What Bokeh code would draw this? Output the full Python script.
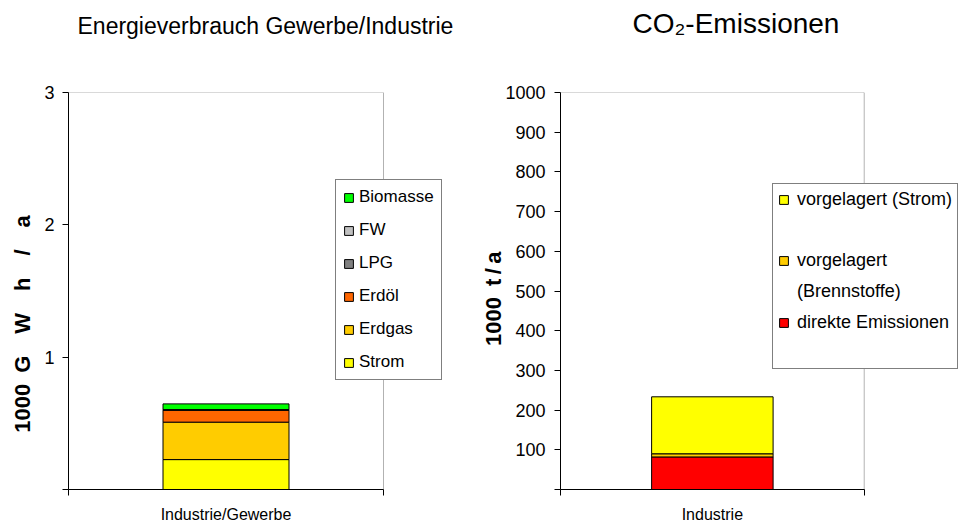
from bokeh.plotting import figure
from bokeh.models import (Range1d, FixedTicker, Legend, LegendItem, ColumnDataSource,
                          BoxAnnotation, Title)
from bokeh.layouts import row
from bokeh.embed import file_html
from bokeh.resources import INLINE

FONT = "Liberation Sans"

# ---------------- data: left chart (energy use) ----------------
energy_category = ["Industrie/Gewerbe"]
energy_series = ["Strom", "Erdgas", "Erdöl", "LPG", "FW", "Biomasse"]
energy_values = [0.226, 0.283, 0.090, 0.003, 0.002, 0.043]   # 1000 GWh/a
energy_colors = ["#FFFF00", "#FFCC00", "#FF6600", "#808080", "#C0C0C0", "#00FF00"]
energy_ticks = [0, 1, 2, 3]

# ---------------- data: right chart (CO2 emissions) ----------------
co2_category = ["Industrie"]
co2_series = ["direkte Emissionen", "vorgelagert (Brennstoffe)", "vorgelagert (Strom)"]
co2_values = [82, 8, 143.5]   # 1000 t/a
co2_colors = ["#FF0000", "#FFCC00", "#FFFF00"]
co2_ticks = [0, 100, 200, 300, 400, 500, 600, 700, 800, 900, 1000]


def make_chart(width, height, left_b, top_b, bottom_b, box_px, categories, series, values,
               colors, ticks, title, title_size, title_offset, ylabel, ylabel_standoff,
               tick_standoff, cat_standoff):
    n = len(categories)
    frame_px = width - left_b
    x_end = n * frame_px / box_px          # plot box spans 0..n, legend room to the right
    positions = [i + 0.5 for i in range(n)]
    ymax = ticks[-1]

    p = figure(width=width, height=height, x_range=Range1d(0, x_end), y_range=Range1d(0, ymax),
               output_backend="svg", toolbar_location=None, title_location=None,
               min_border_left=left_b, min_border_right=0, min_border_top=top_b,
               min_border_bottom=bottom_b)
    p.xgrid.visible = False
    p.ygrid.visible = False
    p.outline_line_color = None
    p.background_fill_color = "white"
    p.border_fill_color = "white"

    data = dict(x=positions)
    for s, v in zip(series, values):
        data[s] = [v]
    src = ColumnDataSource(data)
    rs = p.vbar_stack(series, x="x", width=0.4, color=colors, source=src,
                      line_color="black", line_width=1)

    # plot-area border (Excel style box)
    p.add_layout(BoxAnnotation(left=0, right=n, bottom=0, top=ymax, fill_alpha=0,
                               line_color="black", line_width=1))

    ya = p.yaxis[0]
    ya.ticker = FixedTicker(ticks=ticks)
    ya.major_label_overrides = {0: ""}
    ya.major_tick_out = 6
    ya.major_tick_in = 0
    ya.minor_tick_line_color = None
    ya.axis_line_color = "black"
    ya.major_tick_line_color = "black"
    ya.major_label_text_font = FONT
    ya.major_label_text_font_size = "18px"
    ya.major_label_text_color = "black"
    ya.major_label_standoff = tick_standoff
    ya.axis_label = ylabel
    ya.axis_label_text_font = FONT
    ya.axis_label_text_font_size = "22px"
    ya.axis_label_text_font_style = "bold"
    ya.axis_label_text_color = "black"
    ya.axis_label_standoff = ylabel_standoff

    xa = p.xaxis[0]
    xa.ticker = FixedTicker(ticks=positions, minor_ticks=list(range(n + 1)))
    xa.major_label_overrides = {pos: c for pos, c in zip(positions, categories)}
    xa.bounds = (0, n)
    xa.major_tick_line_color = None
    xa.major_tick_out = 0
    xa.major_tick_in = 0
    xa.minor_tick_line_color = "black"
    xa.minor_tick_out = 6
    xa.minor_tick_in = 0
    xa.axis_line_color = "black"
    xa.major_label_text_font = FONT
    xa.major_label_text_font_size = "16px"
    xa.major_label_text_color = "black"
    xa.major_label_standoff = cat_standoff

    # blank spacer next to the frame, then the visible title above it
    p.add_layout(Title(text=" ", text_font=FONT, text_font_size="10px", standoff=41,
                       text_color="white"), "above")
    p.add_layout(Title(text=title, text_font=FONT, text_font_size=title_size,
                       text_font_style="normal", text_color="black", align="left",
                       offset=title_offset, standoff=0, vertical_align="bottom"), "above")
    return p, rs


# ---------------- left figure ----------------
p1, rs1 = make_chart(478, 528, 68, 91, 39, 315, energy_category, energy_series, energy_values,
                     energy_colors, energy_ticks, "Energieverbrauch Gewerbe/Industrie", "23px", 9,
                     "1000\u2002G\u2003W\u2003h\u2003/\u2003a\u2003\u2003\u2003", 6, 8, 10)
leg1_items = [LegendItem(label=s, renderers=[r]) for s, r in zip(energy_series, rs1)][::-1]
leg1 = Legend(items=leg1_items, location=(267, 109), orientation="vertical",
              label_text_font=FONT, label_text_font_size="17px", label_text_color="black",
              glyph_width=11, glyph_height=11, label_height=20, label_standoff=5,
              spacing=13, padding=7, margin=0,
              border_line_color="black", border_line_width=1, background_fill_color="white",
              background_fill_alpha=1)
p1.add_layout(leg1, "center")

# ---------------- right figure ----------------
p2, rs2 = make_chart(481, 528, 79, 92, 36, 306, co2_category, co2_series, co2_values,
                     co2_colors, co2_ticks, "CO\u2082-Emissionen", "28px", 72,
                     "1000\u2002t\u2009/\u2009a\u2002\u2009", -4, 9, 10)
blank = p2.vbar(x=[], top=[], width=0.4, fill_alpha=0, line_alpha=0)
leg2_items = [
    LegendItem(label="vorgelagert (Strom)", renderers=[rs2[2]]),
    LegendItem(label=" ", renderers=[blank]),
    LegendItem(label="vorgelagert", renderers=[rs2[1]]),
    LegendItem(label="(Brennstoffe)", renderers=[blank]),
    LegendItem(label="direkte Emissionen", renderers=[rs2[0]]),
    LegendItem(label=" ", renderers=[blank]),
]
leg2 = Legend(items=leg2_items, location=(212, 120), orientation="vertical",
              label_text_font=FONT, label_text_font_size="18px", label_text_color="black",
              glyph_width=11, glyph_height=11, label_height=20, label_standoff=8,
              spacing=10, padding=5, margin=0,
              border_line_color="black", border_line_width=1, background_fill_color="white",
              background_fill_alpha=1)
p2.add_layout(leg2, "center")

layout = row(p1, p2)
open("out.html", "w").write(file_html(layout, INLINE))
